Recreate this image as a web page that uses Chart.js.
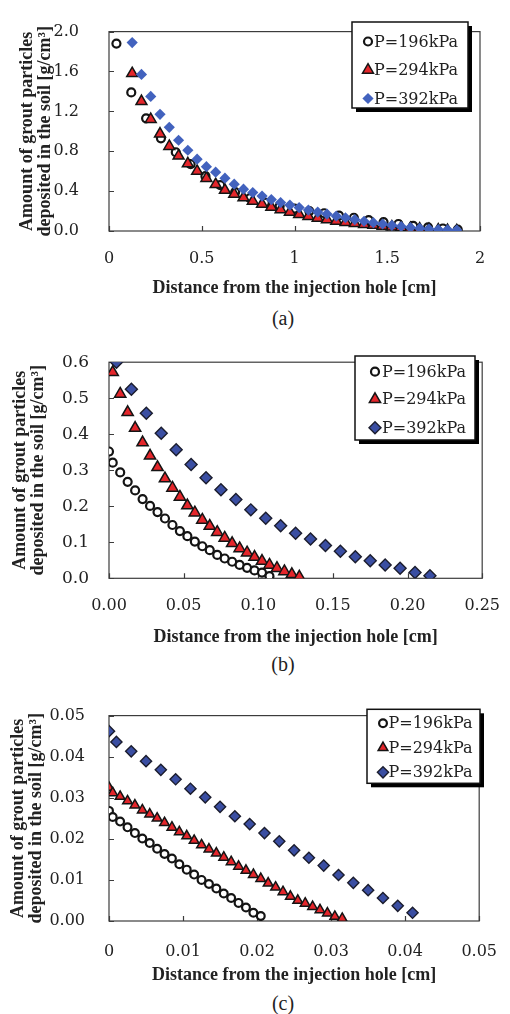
<!DOCTYPE html>
<html>
<head>
<meta charset="utf-8">
<title>Grout particles deposited in the soil</title>
<script src="https://cdn.jsdelivr.net/npm/chart.js@4.4.1/dist/chart.umd.min.js"></script>
<style>
  body { margin: 0; background: #fff; width: 510px; height: 1014px; position: relative; overflow: hidden; }
  .panel { position: absolute; left: 0; width: 510px; }
  .caption { position: absolute; left: 253px; width: 60px; text-align: center; font: 20px "Liberation Serif", serif; color: #222; line-height: 20px; }
</style>
</head>
<body>
<div class="panel" style="top:0px"><canvas id="chartA" width="510" height="300"></canvas></div>
<div class="caption" style="top:308px">(a)</div>
<div class="panel" style="top:340px"><canvas id="chartB" width="510" height="310"></canvas></div>
<div class="caption" style="top:654px">(b)</div>
<div class="panel" style="top:690px"><canvas id="chartC" width="510" height="300"></canvas></div>
<div class="caption" style="top:993px">(c)</div>

<script>
// labels of the three injection pressures
const seriesLabels = ['P=196kPa', 'P=294kPa', 'P=392kPa'];

// (a) distance [cm] / amount deposited [g/cm3]
const aDist196 = [0.04, 0.12, 0.20, 0.28, 0.36, 0.44, 0.52, 0.60, 0.68, 0.76, 0.84, 0.92,
                  1.00, 1.08, 1.16, 1.24, 1.32, 1.40, 1.48, 1.56, 1.64, 1.72, 1.80, 1.88];
const aAmt196 = [1.88, 1.39, 1.13, 0.93, 0.79, 0.67, 0.55, 0.46, 0.39, 0.33, 0.285, 0.25,
                 0.225, 0.2, 0.178, 0.155, 0.133, 0.11, 0.09, 0.07, 0.052, 0.037, 0.025, 0.015];
const aDist294 = [0.125, 0.175, 0.225, 0.275, 0.325, 0.375, 0.425, 0.475, 0.525, 0.575, 0.625, 0.675,
                  0.725, 0.775, 0.825, 0.875, 0.925, 0.975, 1.025, 1.075, 1.125, 1.175, 1.225, 1.275,
                  1.325, 1.375, 1.425, 1.475, 1.525, 1.575, 1.625, 1.675, 1.725, 1.775, 1.825, 1.875];
const aAmt294 = [1.58, 1.30, 1.12, 0.974, 0.85, 0.753, 0.676, 0.60, 0.529, 0.467, 0.41, 0.37,
                 0.335, 0.30, 0.27, 0.24, 0.215, 0.19, 0.167, 0.147, 0.13, 0.115, 0.10, 0.088,
                 0.077, 0.067, 0.058, 0.05, 0.042, 0.035, 0.028, 0.022, 0.016, 0.011, 0.007, 0.004];
const aDist392 = [0.125, 0.175, 0.225, 0.275, 0.325, 0.375, 0.425, 0.475, 0.525, 0.575, 0.625, 0.675,
                  0.725, 0.775, 0.825, 0.875, 0.925, 0.975, 1.025, 1.075, 1.125, 1.175, 1.225, 1.275,
                  1.325, 1.375, 1.425, 1.475, 1.525, 1.575, 1.625, 1.675, 1.725, 1.775, 1.825, 1.875];
const aAmt392 = [1.89, 1.57, 1.35, 1.17, 1.04, 0.91, 0.81, 0.72, 0.645, 0.59, 0.53, 0.47,
                 0.42, 0.385, 0.35, 0.315, 0.285, 0.26, 0.235, 0.21, 0.19, 0.17, 0.15, 0.133,
                 0.115, 0.098, 0.083, 0.07, 0.057, 0.045, 0.035, 0.027, 0.02, 0.015, 0.012, 0.01];
const aXTicks = [0, 0.5, 1, 1.5, 2];
const aXTickLabels = ['0', '0.5', '1', '1.5', '2'];
const aYTicks = [0, 0.4, 0.8, 1.2, 1.6, 2.0];
const aYTickLabels = ['0.0', '0.4', '0.8', '1.2', '1.6', '2.0'];

// (b)
const bDist196 = [0, 0.0025, 0.0075, 0.0125, 0.0175, 0.0225, 0.0275, 0.0325, 0.0375, 0.0425, 0.0475, 0.0525,
                  0.0575, 0.0625, 0.0675, 0.0725, 0.0775, 0.0825, 0.0875, 0.0925, 0.0975, 0.1025, 0.1075];
const bAmt196 = [0.352, 0.321, 0.294, 0.268, 0.244, 0.22, 0.201, 0.184, 0.166, 0.148, 0.131, 0.117,
                 0.102, 0.089, 0.078, 0.065, 0.055, 0.046, 0.037, 0.029, 0.022, 0.016, 0.006];
const bDist294 = [0.0025, 0.0075, 0.0125, 0.0175, 0.0225, 0.0275, 0.0325, 0.0375, 0.0425, 0.0475, 0.0525, 0.0575, 0.0625,
                  0.0675, 0.0725, 0.0775, 0.0825, 0.0875, 0.0925, 0.0975, 0.1025, 0.1075, 0.1125, 0.1175, 0.1225, 0.1275];
const bAmt294 = [0.572, 0.512, 0.461, 0.417, 0.377, 0.340, 0.308, 0.277, 0.251, 0.226, 0.202, 0.182, 0.162,
                 0.145, 0.128, 0.112, 0.097, 0.083, 0.071, 0.059, 0.048, 0.037, 0.028, 0.019, 0.011, 0.004];
const bDist392 = [0.005, 0.015, 0.025, 0.035, 0.045, 0.055, 0.065, 0.075, 0.085, 0.095, 0.105,
                  0.115, 0.125, 0.135, 0.145, 0.155, 0.165, 0.175, 0.185, 0.195, 0.205, 0.215];
const bAmt392 = [0.600, 0.525, 0.458, 0.403, 0.357, 0.316, 0.279, 0.246, 0.219, 0.190, 0.167,
                 0.146, 0.125, 0.109, 0.091, 0.075, 0.060, 0.049, 0.037, 0.028, 0.016, 0.007];
const bXTicks = [0, 0.05, 0.10, 0.15, 0.20, 0.25];
const bXTickLabels = ['0.00', '0.05', '0.10', '0.15', '0.20', '0.25'];
const bYTicks = [0, 0.1, 0.2, 0.3, 0.4, 0.5, 0.6];
const bYTickLabels = ['0.0', '0.1', '0.2', '0.3', '0.4', '0.5', '0.6'];

// (c)
const cDist196 = [0, 0.0005, 0.0015, 0.0025, 0.0035, 0.0045, 0.0055, 0.0065, 0.0075, 0.0085, 0.0095,
                  0.0105, 0.0115, 0.0125, 0.0135, 0.0145, 0.0155, 0.0165, 0.0175, 0.0185, 0.0195, 0.0205];
const cAmt196 = [0.0268, 0.0253, 0.0242, 0.0228, 0.0214, 0.0201, 0.019, 0.0176, 0.0163, 0.0152, 0.0138,
                 0.0125, 0.0113, 0.01, 0.009, 0.0079, 0.0067, 0.0056, 0.0044, 0.0033, 0.002, 0.0012];
const cDist294 = [0, 0.0005, 0.0015, 0.0025, 0.0035, 0.0045, 0.0055, 0.0065, 0.0075, 0.0085, 0.0095,
                  0.0105, 0.0115, 0.0125, 0.0135, 0.0145, 0.0155, 0.0165, 0.0175, 0.0185, 0.0195, 0.0205,
                  0.0215, 0.0225, 0.0235, 0.0245, 0.0255, 0.0265, 0.0275, 0.0285, 0.0295, 0.0305, 0.0315];
const cAmt294 = [0.0325, 0.0312, 0.0303, 0.0292, 0.0282, 0.027, 0.026, 0.025, 0.0239, 0.0228, 0.0217,
                 0.0207, 0.0196, 0.0185, 0.0175, 0.0165, 0.0155, 0.0144, 0.0133, 0.0123, 0.0113, 0.0103,
                 0.0092, 0.0082, 0.0071, 0.006, 0.005, 0.0043, 0.0035, 0.0027, 0.0019, 0.0011, 0.0006];
const cDist392 = [0, 0.001, 0.003, 0.005, 0.007, 0.009, 0.011, 0.013, 0.015, 0.017, 0.019,
                  0.021, 0.023, 0.025, 0.027, 0.029, 0.031, 0.033, 0.035, 0.037, 0.039, 0.041];
const cAmt392 = [0.0462, 0.0436, 0.0413, 0.0389, 0.0368, 0.0345, 0.0322, 0.0301, 0.0278, 0.0255, 0.0236,
                 0.0214, 0.0194, 0.0172, 0.0154, 0.0135, 0.0112, 0.0093, 0.0075, 0.0056, 0.0037, 0.002];
const cXTicks = [0, 0.01, 0.02, 0.03, 0.04, 0.05];
const cXTickLabels = ['0', '0.01', '0.02', '0.03', '0.04', '0.05'];
const cYTicks = [0, 0.01, 0.02, 0.03, 0.04, 0.05];
const cYTickLabels = ['0.00', '0.01', '0.02', '0.03', '0.04', '0.05'];

const serif = '"Liberation Serif", "Times New Roman", serif';
const wideSerif = '"DejaVu Serif", serif';
const inkColor = '#222';

function toPoints(xs, ys) {
    return xs.map((x, i) => ({ x: x, y: ys[i] }));
}

// frame round the plot area, tick marks pointing inwards
const plotFrame = {
    id: 'plotFrame',
    beforeDatasetsDraw(chart) {
        const { ctx, chartArea: a, scales } = chart;
        ctx.save();
        ctx.strokeStyle = '#3c3c3c';
        ctx.lineWidth = 1.2;
        ctx.strokeRect(a.left, a.top, a.right - a.left, a.bottom - a.top);
        ctx.beginPath();
        scales.x.ticks.forEach(t => {
            const px = Math.round(scales.x.getPixelForValue(t.value)) + 0.5;
            ctx.moveTo(px, a.bottom);
            ctx.lineTo(px, a.bottom - 5);
        });
        scales.y.ticks.forEach(t => {
            const py = Math.round(scales.y.getPixelForValue(t.value)) + 0.5;
            ctx.moveTo(a.left, py);
            ctx.lineTo(a.left + 5, py);
        });
        ctx.stroke();
        ctx.restore();
    }
};

// legend in a framed box with a drop shadow, drawn over the plot
const boxedLegend = {
    id: 'boxedLegend',
    afterDatasetsDraw(chart, args, opts) {
        const ctx = chart.ctx;
        ctx.save();
        ctx.fillStyle = '#000';
        ctx.fillRect(opts.left + 4, opts.top + 4, opts.width, opts.height);
        ctx.fillStyle = '#fff';
        ctx.fillRect(opts.left, opts.top, opts.width, opts.height);
        ctx.strokeStyle = '#111';
        ctx.lineWidth = 1.5;
        ctx.strokeRect(opts.left, opts.top, opts.width, opts.height);

        ctx.font = '16px ' + wideSerif;
        ctx.textBaseline = 'middle';
        ctx.textAlign = 'left';
        chart.data.datasets.forEach((ds, i) => {
            const y = opts.rowY[i];
            ctx.fillStyle = ds.backgroundColor;
            ctx.strokeStyle = ds.borderColor;
            ctx.lineWidth = ds.borderWidth;
            Chart.helpers.drawPoint(ctx, {
                pointStyle: ds.pointStyle,
                radius: ds.pointRadius,
                borderWidth: ds.borderWidth,
                rotation: 0
            }, opts.markX, y);
            ctx.fillStyle = inkColor;
            ctx.fillText(ds.label, opts.textX, y + 1);
        });
        ctx.restore();
    }
};

function renderPanel(canvasId, p) {
    new Chart(document.getElementById(canvasId), {
        type: 'scatter',
        data: {
            datasets: [{
                label: seriesLabels[0],
                data: toPoints(p.dist[0], p.amt[0]),
                pointStyle: 'circle',
                pointRadius: p.sizes[0],
                backgroundColor: '#ffffff',
                borderColor: '#141414',
                borderWidth: 2.2,
                order: 3
            }, {
                label: seriesLabels[1],
                data: toPoints(p.dist[1], p.amt[1]),
                pointStyle: 'triangle',
                pointRadius: p.sizes[1],
                backgroundColor: '#e4262b',
                borderColor: '#141414',
                borderWidth: 1.5,
                order: 2
            }, {
                label: seriesLabels[2],
                data: toPoints(p.dist[2], p.amt[2]),
                pointStyle: 'rectRot',
                pointRadius: p.sizes[2],
                backgroundColor: p.diamondFill,
                borderColor: '#1b1d2e',
                borderWidth: p.diamondEdge,
                order: 1
            }]
        },
        options: {
            responsive: false,
            maintainAspectRatio: false,
            animation: false,
            events: [],
            layout: { padding: { top: p.padTop, right: p.padRight, left: 0, bottom: 0 } },
            plugins: {
                legend: { display: false },
                tooltip: { enabled: false },
                boxedLegend: p.legend
            },
            scales: {
                x: {
                    type: 'linear',
                    min: p.xTicks[0],
                    max: p.xTicks[p.xTicks.length - 1],
                    afterBuildTicks: scale => { scale.ticks = p.xTicks.map(v => ({ value: v })); },
                    afterFit: scale => { scale.height = p.xAxisHeight; },
                    grid: { display: false },
                    border: { display: false },
                    ticks: {
                        autoSkip: false,
                        maxRotation: 0,
                        padding: p.xTickPad,
                        color: inkColor,
                        font: { family: wideSerif, size: 16 },
                        callback: (value, index) => p.xLabels[index]
                    },
                    title: {
                        display: true,
                        text: 'Distance from the injection hole [cm]',
                        color: inkColor,
                        font: { family: serif, size: 18, weight: 'bold', lineHeight: 1 },
                        padding: { top: 0, bottom: p.xTitlePad }
                    }
                },
                y: {
                    type: 'linear',
                    min: p.yTicks[0],
                    max: p.yTicks[p.yTicks.length - 1],
                    afterBuildTicks: scale => { scale.ticks = p.yTicks.map(v => ({ value: v })); },
                    afterFit: scale => { scale.width = 109; },
                    grid: { display: false },
                    border: { display: false },
                    ticks: {
                        autoSkip: false,
                        padding: p.yTickPad,
                        color: inkColor,
                        font: { family: wideSerif, size: p.yTickSize },
                        callback: (value, index) => p.yLabels[index]
                    },
                    title: {
                        display: true,
                        text: ['Amount of grout particles', 'deposited in the soil [g/cm\u00b3]'],
                        color: inkColor,
                        font: { family: serif, size: 18, weight: 'bold', lineHeight: 1 },
                        padding: { top: p.yTitlePad, bottom: 0 }
                    }
                }
            }
        },
        plugins: [plotFrame, boxedLegend]
    });
}

document.addEventListener('DOMContentLoaded', () => {
    renderPanel('chartA', {
        dist: [aDist196, aDist294, aDist392],
        amt: [aAmt196, aAmt294, aAmt392],
        xTicks: aXTicks, xLabels: aXTickLabels,
        yTicks: aYTicks, yLabels: aYTickLabels,
        sizes: [4, 6.3, 5.6],
        diamondFill: '#4262be', diamondEdge: 0,
        padTop: 13, padRight: 30, xAxisHeight: 69,
        xTickPad: 10, yTickPad: 22, yTickSize: 16, xTitlePad: 3, yTitlePad: 18,
        legend: { left: 352, top: 22, width: 116, height: 86, rowY: [41.5, 70, 98.5], markX: 368, textX: 374 }
    });
    renderPanel('chartB', {
        dist: [bDist196, bDist294, bDist392],
        amt: [bAmt196, bAmt294, bAmt392],
        xTicks: bXTicks, xLabels: bXTickLabels,
        yTicks: bYTicks, yLabels: bYTickLabels,
        sizes: [4, 6.5, 6],
        diamondFill: '#3a4ea2', diamondEdge: 1.4,
        padTop: 12.7, padRight: 25, xAxisHeight: 71.7,
        xTickPad: 10, yTickPad: 12, yTickSize: 17, xTitlePad: 4, yTitlePad: 11,
        legend: { left: 355, top: 16, width: 120, height: 84, rowY: [31.7, 59.3, 87.7], markX: 375, textX: 382 }
    });
    renderPanel('chartC', {
        dist: [cDist196, cDist294, cDist392],
        amt: [cAmt196, cAmt294, cAmt392],
        xTicks: cXTicks, xLabels: cXTickLabels,
        yTicks: cYTicks, yLabels: cYTickLabels,
        sizes: [3.9, 5.6, 5.6],
        diamondFill: '#3a4ea2', diamondEdge: 1.4,
        padTop: 13.3, padRight: 23, xAxisHeight: 69,
        xTickPad: 13, yTickPad: 16, yTickSize: 16, xTitlePad: 6, yTitlePad: 9,
        legend: { left: 367, top: 19.3, width: 113, height: 74, rowY: [33.3, 57.7, 82.3], markX: 383, textX: 388.5 }
    });
});
</script>
</body>
</html>
